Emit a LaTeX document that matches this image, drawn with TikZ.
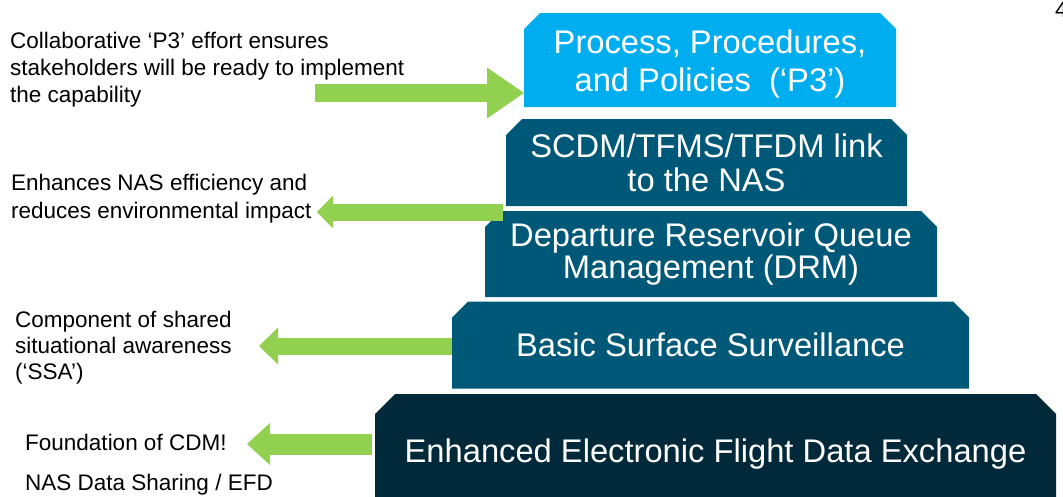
\documentclass[tikz,border=0pt]{standalone}
\usepackage{fontspec}
\setmainfont{Liberation Sans}
\usetikzlibrary{shapes.misc, arrows.meta}

\definecolor{ppblue}{RGB}{0,174,239}
\definecolor{layerblue}{RGB}{0,88,120}
\definecolor{baseblue}{RGB}{2,41,58}
\definecolor{leafgreen}{RGB}{146,208,80}

\begin{document}
\begin{tikzpicture}[
    x=1pt, y=-1pt,
    layer/.style={chamfered rectangle, chamfered rectangle corners={north west, north east},
        chamfered rectangle sep=8pt, inner sep=0pt, outer sep=0pt, draw=none,
        text=white, align=center, font=\fontsize{32.7}{34}\selectfont},
    note/.style={anchor=base west, inner sep=0pt, align=left, font=\fontsize{22.5}{27}\selectfont},
    every edge/.append style={draw=leafgreen, line cap=butt}
]
   \useasboundingbox (0,0) rectangle (1063,496);
   \clip (0,0) rectangle (1063,496);

   % Layers
   \node[layer, fill=ppblue, minimum width=372pt, minimum height=94pt,
         font=\fontsize{32.7}{38}\selectfont] (p3) at (710,60)
        {\rule{0pt}{32pt}Process, Procedures,\\and Policies\ \ (‘P3’)};
   \node[layer, fill=layerblue, minimum width=401pt, minimum height=87pt] (scdm) at (706.5,162.5)
        {SCDM/TFMS/TFDM link\\to the NAS};
   \node[layer, fill=layerblue, minimum width=452pt, minimum height=86pt,
         font=\fontsize{32.7}{30}\selectfont] (drm) at (711,254)
        {Departure Reservoir Queue\\Management (DRM)};
   \node[layer, fill=layerblue, minimum width=517pt, minimum height=87pt] (bss) at (710.5,345)
        {Basic Surface Surveillance};
   \node[layer, fill=baseblue, minimum width=681pt, minimum height=119.5pt,
         chamfered rectangle sep=10pt] (efde) at (715.5,453.75)
        {Enhanced Electronic Flight Data Exchange};

   % Notes (placed by the baseline of their last line)
   \node[note] (collab) at (10,102)
        {Collaborative ‘P3’ effort ensures\\stakeholders will be ready to implement\\the capability};
   \node[note, font=\fontsize{22.5}{28}\selectfont] (enhances) at (11,218)
        {Enhances NAS efficiency and\\reduces environmental impact};
   \node[note, font=\fontsize{22.5}{26}\selectfont] (component) at (15,379)
        {Component of shared\\situational awareness\\(‘SSA’)};
   \node[note] (foundation) at (25,450) {Foundation of CDM!};
   \node[note] (sharing) at (25,490) {NAS Data Sharing / EFD};
   \node[note] (pagenum) at (1055,17) {4};

   % Arrows
   \coordinate (collabtail) at (315,93);
   \coordinate (enhtail) at (503,212);
   \coordinate (enhtip) at (317,212);
   \coordinate (ssatip) at (259,346);
   \coordinate (cdmtail) at (372,444);
   \coordinate (cdmtip) at (247,444);

   \path
   (collabtail) edge[line width=18pt, -{Triangle[length=37pt, width=51pt, line width=0pt]}] (p3.west |- collabtail)
   (enhtail) edge[line width=17pt, -{Triangle[length=16pt, width=33pt, line width=0pt]}] (enhtip)
   (bss.west |- ssatip) edge[line width=17pt, -{Triangle[length=19pt, width=37pt, line width=0pt]}] (ssatip)
   (cdmtail) edge[line width=21pt, -{Triangle[length=23pt, width=42pt, line width=0pt]}] (cdmtip);
\end{tikzpicture}
\end{document}
